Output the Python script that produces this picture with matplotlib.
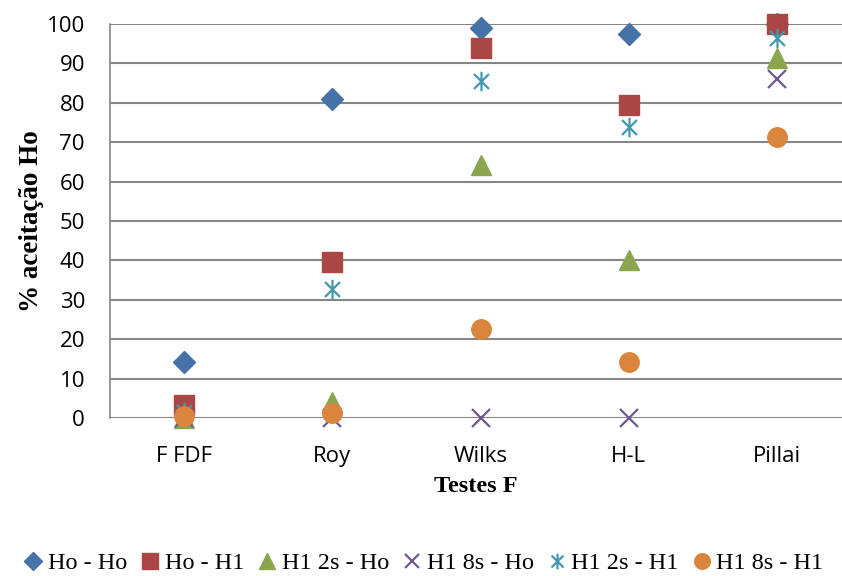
import matplotlib
matplotlib.use('Agg')
import matplotlib.pyplot as plt
from matplotlib.path import Path

# categories and series
testes = ['F FDF', 'Roy', 'Wilks', 'H-L', 'Pillai']
ho_ho = [14.3, 81.0, 99.0, 97.5, 100.0]
ho_h1 = [3.3, 39.6, 94.0, 79.5, 100.0]
h1_2s_ho = [0.0, 4.0, 64.3, 40.0, 91.3]
h1_8s_ho = [0.0, 0.0, 0.0, 0.0, 86.0]
h1_2s_h1 = [1.5, 32.8, 85.5, 73.8, 96.5]
h1_8s_h1 = [0.5, 1.3, 22.7, 14.2, 71.3]

series_names = ['Ho - Ho', 'Ho - H1', 'H1 2s - Ho', 'H1 8s - Ho', 'H1 2s - H1', 'H1 8s - H1']
series_vals = [ho_ho, ho_h1, h1_2s_ho, h1_8s_ho, h1_2s_h1, h1_8s_h1]
colors = ['#4572A7', '#AA4643', '#89A54E', '#71588F', '#4198AF', '#DB843D']

# excel style star: an x with a vertical bar
star = Path([(-1, -1), (1, 1), (-1, 1), (1, -1), (0, -1.3), (0, 1.3)],
            [Path.MOVETO, Path.LINETO, Path.MOVETO, Path.LINETO, Path.MOVETO, Path.LINETO])

markers = ['D', 's', '^', 'x', star, 'o']
sizes = [11, 14, 14, 13, 14, 14]

fig = plt.figure(figsize=(8.42, 5.76), dpi=100)
ax = fig.add_axes([110 / 842, (576 - 418) / 576, 1 - 110 / 842, (418 - 24) / 576])

x = list(range(len(testes)))
for name, vals, c, m, s in zip(series_names, series_vals, colors, markers, sizes):
    if m == 'x' or m is star:
        ax.plot(x, vals, linestyle='none', marker=m, markersize=s, color=c,
                markeredgewidth=1.6, label=name, clip_on=False)
    else:
        ax.plot(x, vals, linestyle='none', marker=m, markersize=s, color=c,
                markeredgecolor=c, label=name, clip_on=False)

ax.set_xlim(-0.5, 4.5 - 9 / 148)
ax.set_ylim(0, 100)
ax.set_yticks(range(0, 101, 10))
ax.set_xticks(x)
ax.set_xticklabels(testes)
ax.yaxis.grid(True, color='#868686', linewidth=1.5)
ax.set_axisbelow(True)
for sp in ['top', 'right', 'bottom']:
    ax.spines[sp].set_visible(False)
ax.spines['left'].set_color('#868686')
ax.spines['left'].set_linewidth(1.2)
ax.tick_params(axis='both', length=0, labelsize=16, colors='black')
ax.tick_params(axis='y', pad=18)
ax.tick_params(axis='x', pad=20)
for lab in ax.get_xticklabels() + ax.get_yticklabels():
    lab.set_family('Open Sans')

ax.set_ylabel('% aceitação Ho', fontsize=19.5, fontweight='bold', family='Liberation Serif', labelpad=2)
ax.set_xlabel('Testes F', fontsize=17.5, fontweight='bold', family='Liberation Serif', labelpad=7)

fig.legend(loc='center', bbox_to_anchor=(0.5, (576 - 563) / 576), ncol=6, frameon=False,
           prop={'family': 'Liberation Serif', 'size': 17.5}, handletextpad=0.0,
           columnspacing=0.35, markerscale=0.8, handlelength=1.2)

fig.savefig('out.png', dpi=100)
